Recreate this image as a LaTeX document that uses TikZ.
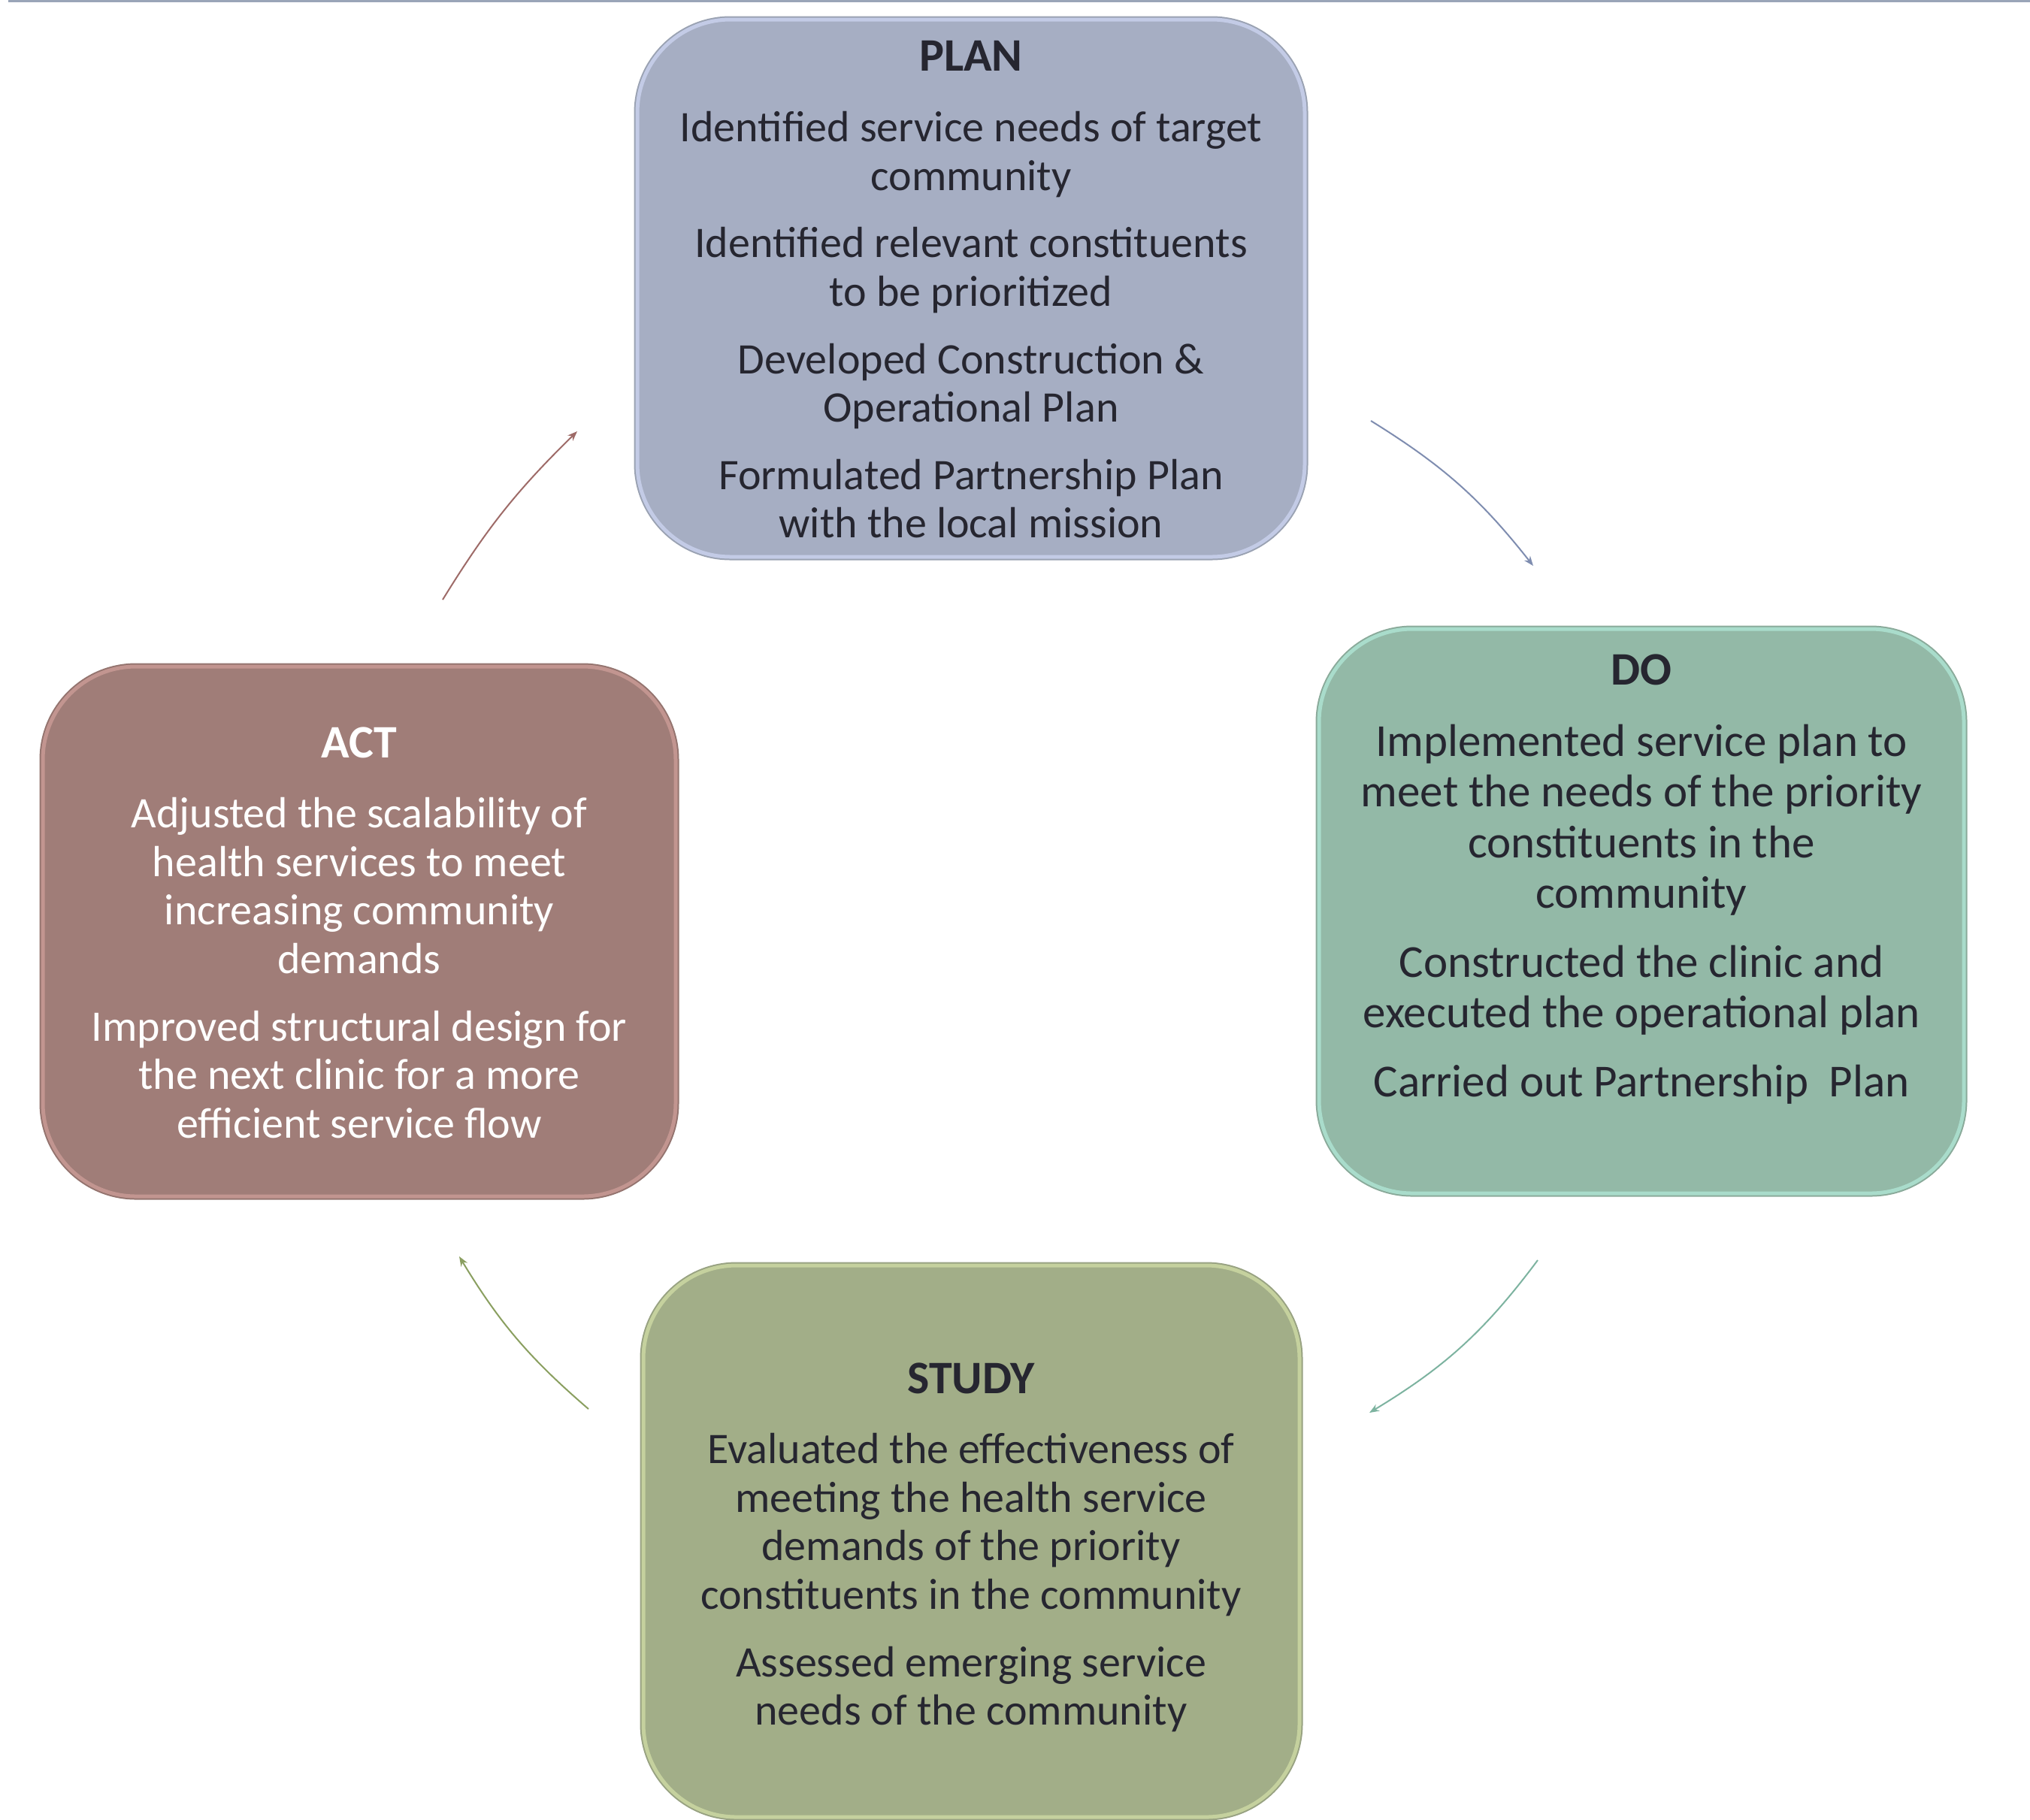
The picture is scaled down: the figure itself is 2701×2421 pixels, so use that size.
\documentclass[tikz,border=0pt]{standalone}
\usepackage{fontspec}
\setmainfont{Carlito}
\usetikzlibrary{arrows.meta}
\definecolor{txtcol}{HTML}{262630}
\definecolor{topline}{HTML}{9AA5B8}
\definecolor{planfill}{HTML}{A6AEC3}
\definecolor{planrim}{HTML}{C3CBE6}
\definecolor{planedge}{HTML}{9AA2B2}
\definecolor{dofill}{HTML}{93B9A7}
\definecolor{dorim}{HTML}{A9DCCB}
\definecolor{doedge}{HTML}{8AAA9A}
\definecolor{actfill}{HTML}{A07D78}
\definecolor{actrim}{HTML}{C29590}
\definecolor{actedge}{HTML}{94746F}
\definecolor{studyfill}{HTML}{A2AE88}
\definecolor{studyrim}{HTML}{C5D19E}
\definecolor{studyedge}{HTML}{98A282}
\definecolor{arrplan}{HTML}{7F8DB0}
\definecolor{arrdo}{HTML}{7DB3A0}
\definecolor{arrstudy}{HTML}{8A9F60}
\definecolor{arract}{HTML}{9E6B68}
\tikzset{
  stagebox/.style={rectangle, rounded corners=62pt, line width=2.5pt, inner sep=0pt},
  stagetext/.style={align=center, inner sep=0pt, text=txtcol, font=\fontsize{29}{32.3}\selectfont},
  stagetitle/.style={font=\fontsize{31}{34}\selectfont\bfseries},
  cyclearrow/.style={line width=1pt, -{Stealth[length=6.5pt,width=5pt]}}
}
\begin{document}
\begin{tikzpicture}[x=0.5pt,y=-0.5pt]
\useasboundingbox (0,0) rectangle (2701,2421);
\coordinate (tl0) at (11,1);
\coordinate (tl1) at (2701,1);
\draw[topline, line width=1.5pt] (tl0) -- (tl1);

% boxes
\node[stagebox, fill=planfill, draw=planrim, preaction={draw=planedge, line width=4.5pt},
  minimum width=444pt, minimum height=357.5pt] (plan) at (1292,383.5) {};
\node[stagebox, fill=dofill, draw=dorim, preaction={draw=doedge, line width=4.5pt},
  minimum width=429pt, minimum height=375.5pt] (do) at (2184,1212.5) {};
\node[stagebox, fill=actfill, draw=actrim, preaction={draw=actedge, line width=4.5pt},
  minimum width=421pt, minimum height=352.5pt] (act) at (478,1239.5) {};
\node[stagebox, fill=studyfill, draw=studyrim, preaction={draw=studyedge, line width=4.5pt},
  minimum width=436.5pt, minimum height=367pt] (study) at (1292.5,2051) {};

% titles
\node[stagetext, stagetitle, anchor=north] (plantitle) at (1292,54) {PLAN};
\node[stagetext, stagetitle, anchor=north] (dotitle) at (2184,870) {DO};
\node[stagetext, stagetitle, anchor=north, text=white] (acttitle) at (478,967) {ACT};
\node[stagetext, stagetitle, anchor=north] (studytitle) at (1292,1813) {STUDY};

% texts
\node[stagetext, anchor=north] (plantext) at (1292,148) {%
Identified service needs of target\\ community\\[12.5pt]
Identified relevant constituents\\ to be prioritized\\[12.5pt]
Developed Construction \&\\ Operational Plan\\[12.5pt]
Formulated Partnership Plan\\ with the local mission};

\node[stagetext, anchor=north, font=\fontsize{30.5}{33.6}\selectfont] (dotext) at (2184,964) {%
Implemented service plan to\\ meet the needs of the priority\\ constituents in the\\ community\\[12.5pt]
Constructed the clinic and\\ executed the operational plan\\[12.5pt]
Carried out Partnership~ Plan};

\node[stagetext, anchor=north, text=white] (acttext) at (478,1061) {%
Adjusted the scalability of\\ health services to meet\\ increasing community\\ demands\\[12.5pt]
Improved structural design for\\ the next clinic for a more\\ efficient service flow};

\node[stagetext, anchor=north] (studytext) at (1292,1907) {%
Evaluated the effectiveness of\\ meeting the health service\\ demands of the priority\\ constituents in the community\\[12.5pt]
Assessed emerging service\\ needs of the community};

% arrows
\coordinate (a1s) at (1824,560);
\coordinate (a1e) at (2040,753);
\coordinate (a2s) at (2046,1677);
\coordinate (a2e) at (1822,1880);
\coordinate (a3s) at (783,1875);
\coordinate (a3e) at (611,1672);
\coordinate (a4s) at (589,798);
\coordinate (a4e) at (768,574);
\draw[cyclearrow, arrplan] (a1s) to[bend left=10] (a1e);
\draw[cyclearrow, arrdo] (a2s) to[bend left=11] (a2e);
\draw[cyclearrow, arrstudy] (a3s) to[bend left=9] (a3e);
\draw[cyclearrow, arract] (a4s) to[bend left=7] (a4e);
\end{tikzpicture}
\end{document}
